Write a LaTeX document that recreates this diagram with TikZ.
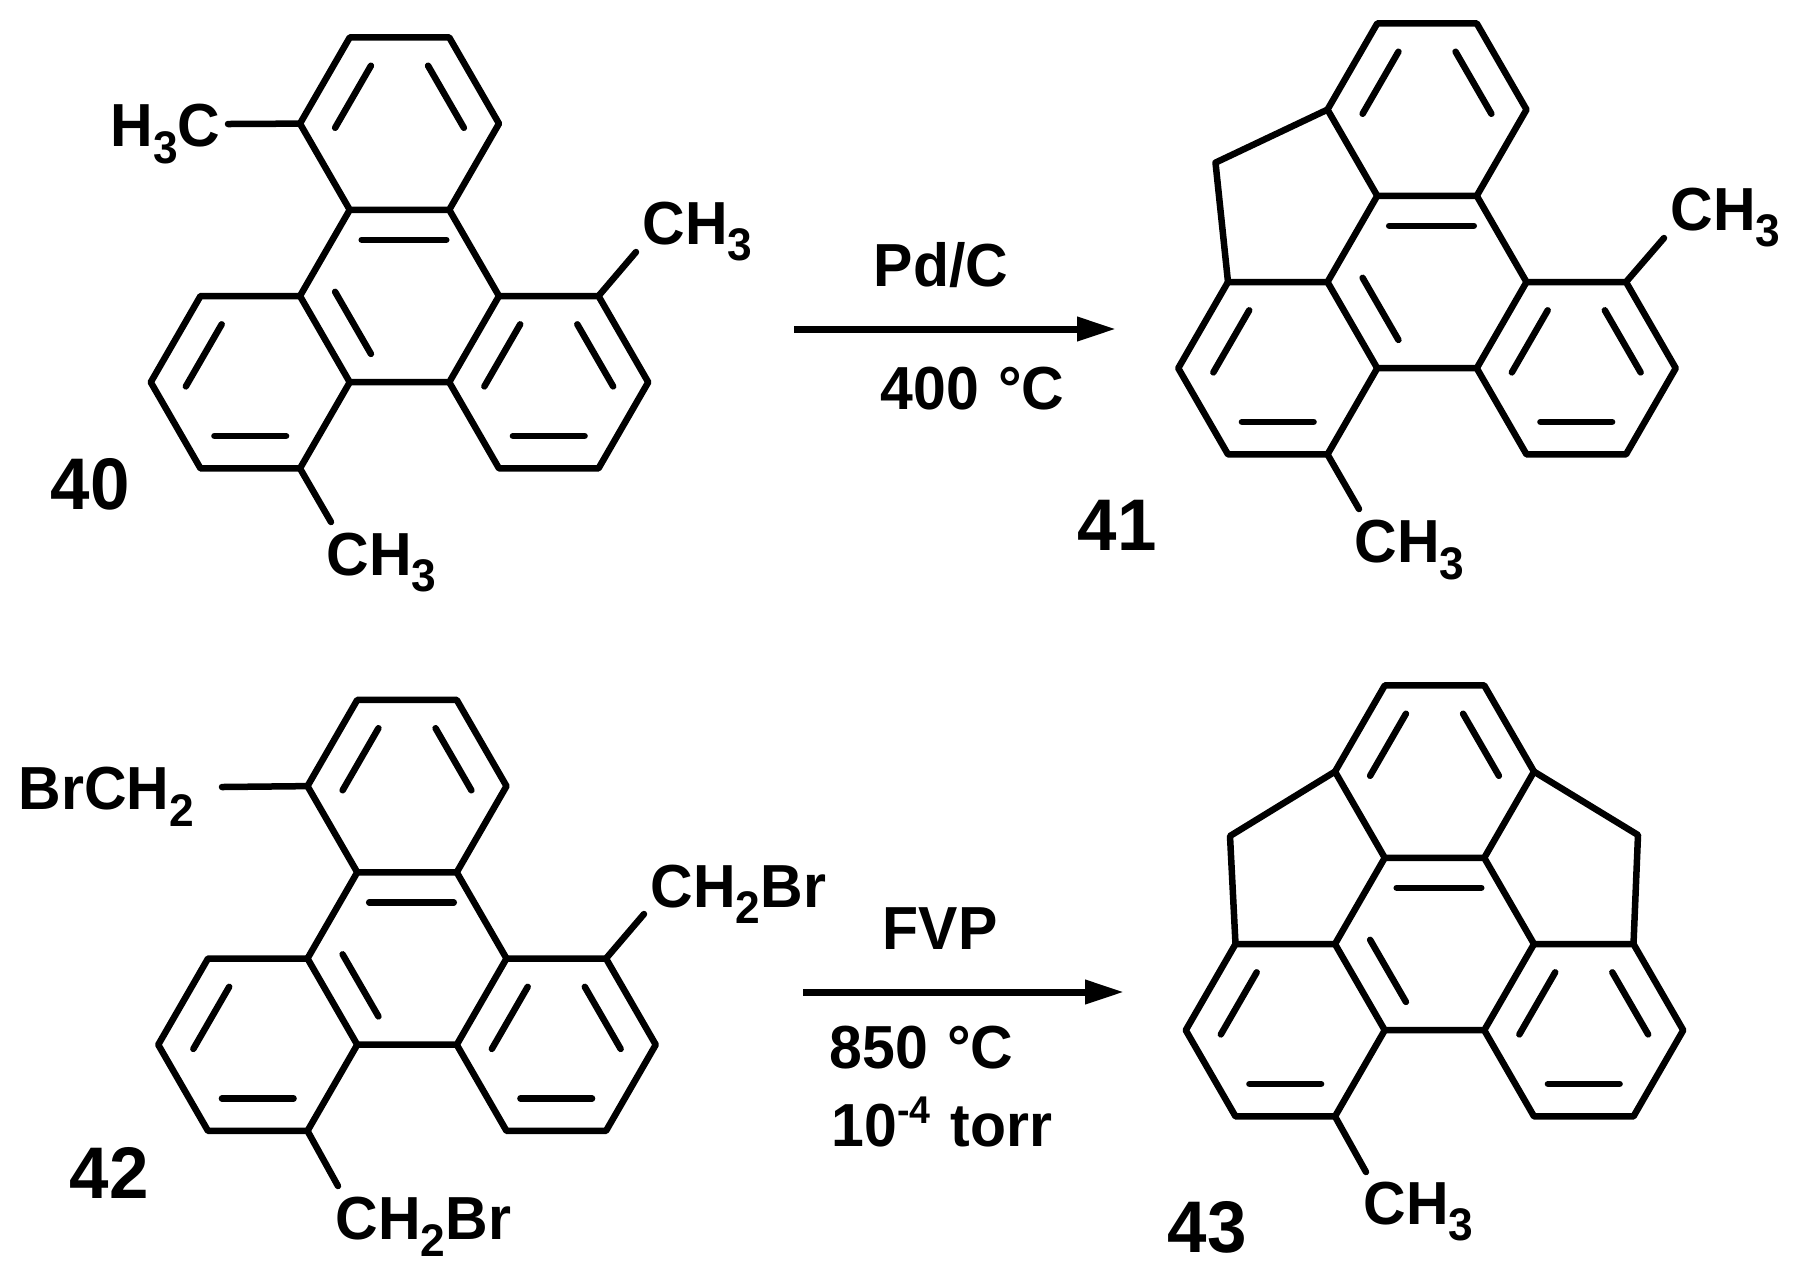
\documentclass[tikz,border=0pt]{standalone}
\usepackage{fontspec}
\setmainfont[FakeStretch=.97]{Liberation Sans}
\usetikzlibrary{calc,arrows.meta}
\tikzset{
  bond/.style={line width=1.85pt,line cap=round,line join=round},
  txt/.style={inner sep=0pt,anchor=base west,yshift=-.2mm,font=\fontsize{17.3}{18}\selectfont\bfseries},
  num/.style={inner sep=0pt,anchor=base west,font=\fontsize{20.8}{22}\selectfont\bfseries},
  rxn/.style={line width=2pt,-{Triangle[length=3.9mm,width=2.3mm]}}
}
\newcommand{\subn}[1]{\raisebox{-4.8pt}{\fontsize{13}{14}\selectfont #1}}
\newcommand{\dbl}[2]{\draw[bond] ($(#1)!.14!(#2)!3.25mm!90:(#2)$) -- ($(#1)!.86!(#2)!3.25mm!-90:(#1)$);}
% four fused rings, #1 = prefix, centre of the middle ring at (#2,#3)
\newcommand{\core}[3]{
  \begin{scope}[shift={(#2,#3)},x=.4975cm,y=.862cm]
    \coordinate (#1ta) at (-1,3);
    \coordinate (#1tb) at (1,3);
    \coordinate (#1tl) at (-2,2);
    \coordinate (#1tr) at (2,2);
    \coordinate (#1ca) at (-1,1);
    \coordinate (#1cb) at (1,1);
    \coordinate (#1cl) at (-2,0);
    \coordinate (#1cr) at (2,0);
    \coordinate (#1la) at (-4,0);
    \coordinate (#1rt) at (4,0);
    \coordinate (#1lb) at (-5,-1);
    \coordinate (#1cc) at (-1,-1);
    \coordinate (#1cd) at (1,-1);
    \coordinate (#1rb) at (5,-1);
    \coordinate (#1le) at (-4,-2);
    \coordinate (#1lf) at (-2,-2);
    \coordinate (#1re) at (2,-2);
    \coordinate (#1rf) at (4,-2);
  \end{scope}
  \draw[bond] (#1ta) -- (#1tb) -- (#1tr) -- (#1cb) -- (#1ca) -- (#1tl) -- cycle;
  \draw[bond] (#1ca) -- (#1cl) -- (#1cc) -- (#1cd) -- (#1cr) -- (#1cb);
  \draw[bond] (#1cl) -- (#1la) -- (#1lb) -- (#1le) -- (#1lf) -- (#1cc);
  \draw[bond] (#1cr) -- (#1rt) -- (#1rb) -- (#1rf) -- (#1re) -- (#1cd);
  \dbl{#1ta}{#1tl} \dbl{#1tr}{#1tb} \dbl{#1cl}{#1cc}
  \dbl{#1la}{#1lb} \dbl{#1le}{#1lf}
  \dbl{#1cr}{#1cd} \dbl{#1re}{#1rf} \dbl{#1rb}{#1rt}
  \draw[bond] ($(#1cb)!.03!(#1ca)!3mm!90:(#1ca)$) -- ($(#1cb)!.88!(#1ca)!3mm!-90:(#1cb)$);
}
\begin{document}
\begin{tikzpicture}
  \useasboundingbox (0,0) rectangle (17.95,-12.69);
  \core{p}{3.995}{-2.96}
  \core{q}{14.27}{-2.82}
  \core{r}{4.07}{-9.585}
  \core{s}{14.345}{-9.44}

  % 40
  \coordinate (p1) at (2.28,-1.24);
  \coordinate (p2) at (6.36,-2.52);
  \coordinate (p3) at (3.31,-5.22);
  \draw[bond] (ptl) -- (p1);
  \draw[bond] (prt) -- (p2);
  \draw[bond] (plf) -- (p3);
  \node[txt] (pa) at (1.10,-1.447) {H\subn{3}C};
  \node[txt] (pb) at (6.42,-2.42) {CH\subn{3}};
  \node[txt] (pc) at (3.26,-5.73) {CH\subn{3}};
  \node[num] (plab) at (.5,-5.09) {40};

  % 41
  \coordinate (q0) at (12.155,-1.626);
  \coordinate (q2) at (16.64,-2.38);
  \coordinate (q3) at (13.59,-5.09);
  \draw[bond] (qtl) -- (q0) -- (qla);
  \draw[bond] (qrt) -- (q2);
  \draw[bond] (qlf) -- (q3);
  \node[txt] (qb) at (16.70,-2.28) {CH\subn{3}};
  \node[txt] (qc) at (13.54,-5.606) {CH\subn{3}};
  \node[num] (qlab) at (10.77,-5.5) {41};

  % first arrow
  \coordinate (a1) at (7.94,-3.29);
  \coordinate (b1) at (11.16,-3.29);
  \draw[rxn] (a1) -- (b1);
  \node[txt] (pd) at (8.73,-2.84) {Pd/C};
  \node[txt] (t1) at (8.8,-4.076) {400\hspace{.8pt} °C};

  % 42
  \coordinate (r1) at (2.22,-7.87);
  \coordinate (r2) at (6.44,-9.14);
  \coordinate (r3) at (3.38,-11.86);
  \draw[bond] (rtl) -- (r1);
  \draw[bond] (rrt) -- (r2);
  \draw[bond] (rlf) -- (r3);
  \node[txt] (ra) at (.18,-8.076) {BrCH\subn{2}};
  \node[txt] (rb) at (6.5,-9.05) {CH\subn{2}Br};
  \node[txt] (rc) at (3.35,-12.375) {CH\subn{2}Br};
  \node[num] (rlab) at (.69,-11.98) {42};

  % 43
  \coordinate (s0) at (12.3,-8.36);
  \coordinate (s1) at (16.38,-8.35);
  \coordinate (s3) at (13.66,-11.72);
  \draw[bond] (stl) -- (s0) -- (sla);
  \draw[bond] (str) -- (s1) -- (srt);
  \draw[bond] (slf) -- (s3);
  \node[txt] (sc) at (13.63,-12.22) {CH\subn{3}};
  \node[num] (slab) at (11.67,-12.52) {43};

  % second arrow
  \coordinate (a2) at (8.03,-9.92);
  \coordinate (b2) at (11.24,-9.92);
  \draw[rxn] (a2) -- (b2);
  \node[txt] (fv) at (8.82,-9.474) {FVP};
  \node[txt] (t2) at (8.29,-10.66) {850\hspace{.8pt} °C};
  \node[txt] (t3) at (8.31,-11.446) {10\raisebox{6.6pt}{\fontsize{11}{12}\selectfont -4}\hspace{1pt} torr};
\end{tikzpicture}
\end{document}
